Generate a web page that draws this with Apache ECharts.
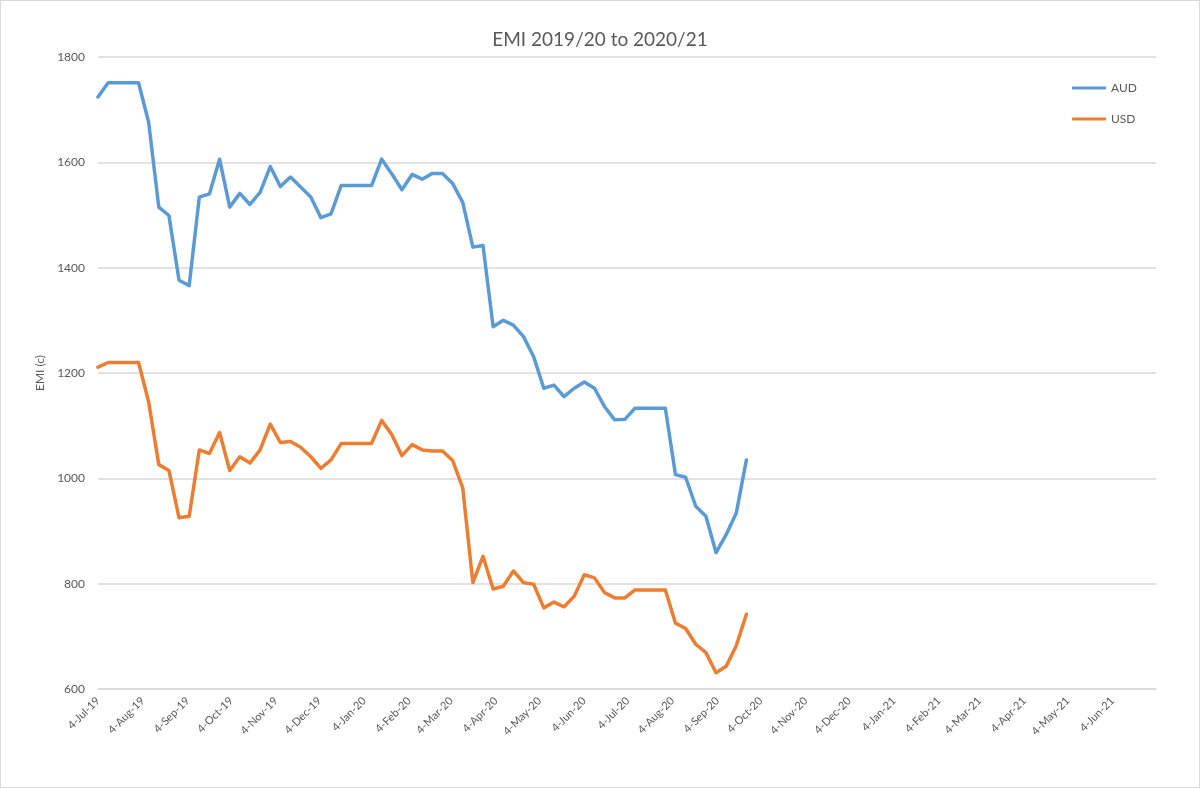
<!DOCTYPE html>
<html>
<head>
<meta charset="utf-8">
<script src="https://cdn.jsdelivr.net/npm/echarts@6/dist/echarts.min.js"></script>
<style>
html,body{margin:0;padding:0;background:#fff;}
#chart{width:1200px;height:788px;box-sizing:border-box;border:1px solid #d9d9d9;}
</style>
</head>
<body>
<div id="chart"></div>
<script>
// Weekly observation dates
const dates = [
 '2019-07-04','2019-07-11','2019-07-18','2019-07-25','2019-08-01','2019-08-08','2019-08-15','2019-08-22','2019-08-29',
 '2019-09-05','2019-09-12','2019-09-19','2019-09-26','2019-10-03','2019-10-10','2019-10-17','2019-10-24','2019-10-31',
 '2019-11-07','2019-11-14','2019-11-21','2019-11-28','2019-12-05','2019-12-12','2019-12-19','2019-12-26',
 '2020-01-02','2020-01-09','2020-01-16','2020-01-23','2020-01-30','2020-02-06','2020-02-13','2020-02-20','2020-02-27',
 '2020-03-05','2020-03-12','2020-03-19','2020-03-26','2020-04-02','2020-04-09','2020-04-16','2020-04-23','2020-04-30',
 '2020-05-07','2020-05-14','2020-05-21','2020-05-28','2020-06-04','2020-06-11','2020-06-18','2020-06-25',
 '2020-07-02','2020-07-09','2020-07-16','2020-07-23','2020-07-30','2020-08-06','2020-08-13','2020-08-20','2020-08-27',
 '2020-09-03','2020-09-10','2020-09-17','2020-09-24'
];
const aud = [
 1724,1751,1751,1751,1751,1676,1515,1499,1376,
 1366,1534,1540,1606,1515,1541,1520,1543,1592,
 1554,1572,1553,1534,1495,1502,1556,1556,
 1556,1556,1606,1578,1548,1577,1568,1579,1579,
 1560,1524,1439,1442,1288,1300,1291,1269,1231,
 1171,1177,1155,1171,1183,1171,1136,1111,
 1112,1133,1133,1133,1133,1007,1002,947,928,
 859,893,934,1035
];
const usd = [
 1211,1220,1220,1220,1220,1145,1026,1015,925,
 928,1054,1047,1087,1015,1041,1029,1054,1103,
 1068,1070,1059,1041,1019,1035,1066,1066,
 1066,1066,1110,1083,1043,1064,1054,1052,1052,
 1034,982,802,852,790,795,824,802,799,
 754,765,756,776,817,811,783,773,
 773,788,788,788,788,725,715,685,669,
 631,643,682,742
];
const tickDates = [
 '2019-07-04','2019-08-04','2019-09-04','2019-10-04','2019-11-04','2019-12-04',
 '2020-01-04','2020-02-04','2020-03-04','2020-04-04','2020-05-04','2020-06-04',
 '2020-07-04','2020-08-04','2020-09-04','2020-10-04','2020-11-04','2020-12-04',
 '2021-01-04','2021-02-04','2021-03-04','2021-04-04','2021-05-04','2021-06-04'
];
const tickLabels = [
 '4-Jul-19','4-Aug-19','4-Sep-19','4-Oct-19','4-Nov-19','4-Dec-19',
 '4-Jan-20','4-Feb-20','4-Mar-20','4-Apr-20','4-May-20','4-Jun-20',
 '4-Jul-20','4-Aug-20','4-Sep-20','4-Oct-20','4-Nov-20','4-Dec-20',
 '4-Jan-21','4-Feb-21','4-Mar-21','4-Apr-21','4-May-21','4-Jun-21'
];
const axisMinDate = '2019-07-04';
const axisMaxDate = '2021-07-04';

// day number (UTC-based, timezone-independent)
function dayNum(s){ const p = s.split('-').map(Number); return Math.round(Date.UTC(p[0], p[1]-1, p[2]) / 86400000); }
const tickDays = tickDates.map(dayNum);

const chart = echarts.init(document.getElementById('chart'));
const txt = '#595959';
const font = 'Lato, "Open Sans", sans-serif';
chart.setOption({
  animation: false,
  backgroundColor: '#fff',
  title: {
    text: 'EMI 2019/20 to 2020/21',
    left: 'center', top: 24,
    textStyle: { fontFamily: font, fontSize: 19, fontWeight: 'normal', color: txt }
  },
  legend: {
    orient: 'vertical', left: 1066, top: 76, itemGap: 19,
    icon: 'roundRect', itemWidth: 34, itemHeight: 3,
    textStyle: { fontFamily: font, fontSize: 12, color: txt },
    data: ['AUD','USD']
  },
  grid: { left: 97, right: 43, top: 56, bottom: 98, containLabel: false },
  xAxis: {
    type: 'value',
    min: dayNum(axisMinDate), max: dayNum(axisMaxDate),
    axisLine: { show: true, lineStyle: { color: '#d9d9d9', width: 1.5 } },
    axisTick: { show: false },
    splitLine: { show: false },
    axisLabel: {
      customValues: tickDays,
      rotate: 45, margin: 10,
      fontFamily: font, fontSize: 11, color: txt,
      hideOverlap: false,
      formatter: function (v) {
        const i = tickDays.indexOf(Math.round(v));
        return i >= 0 ? tickLabels[i] : '';
      }
    }
  },
  yAxis: {
    type: 'value', min: 600, max: 1800, interval: 200,
    name: 'EMI (c)', nameLocation: 'middle', nameGap: 50, nameRotate: 90,
    nameTextStyle: { fontFamily: font, fontSize: 12, color: txt },
    axisLine: { show: false }, axisTick: { show: false },
    axisLabel: { fontFamily: font, fontSize: 12, color: txt, margin: 13,
      formatter: function (v) { return String(v); } },
    splitLine: { lineStyle: { color: '#d9d9d9', width: 1.5 } }
  },
  series: [
    { name: 'AUD', type: 'line', symbol: 'none', color: '#5B9BD5',
      lineStyle: { width: 3.5, color: '#5B9BD5', join: 'round', cap: 'round' },
      data: dates.map((d,i) => [dayNum(d), aud[i]]) },
    { name: 'USD', type: 'line', symbol: 'none', color: '#ED7D31',
      lineStyle: { width: 3.5, color: '#ED7D31', join: 'round', cap: 'round' },
      data: dates.map((d,i) => [dayNum(d), usd[i]]) }
  ]
});
</script>
</body>
</html>
